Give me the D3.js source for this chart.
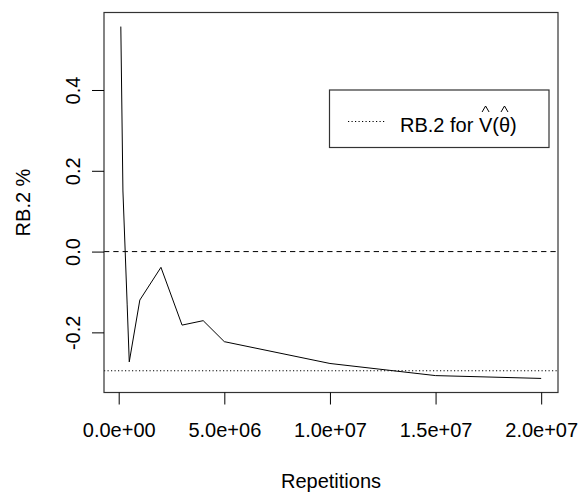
<!DOCTYPE html>
<html>
  <head>
    <script src="https://d3js.org/d3.v7.min.js"></script>
    <style>
      body { margin: 0; background: #fff; }
      text { font-family: "Liberation Sans", Arial, sans-serif; fill: #000; white-space: pre; }
    </style>
  </head>
  <body>
    <svg id="rbvis" width="579" height="493"></svg>

  <script>
  // Data
  var reps = [1e5, 2e5, 4e5, 5e5, 1e6, 2e6, 3e6, 4e6, 5e6, 1e7, 1.5e7, 2e7];
  var rb2 = [0.557, 0.15, -0.13, -0.273, -0.12, -0.039, -0.182, -0.171, -0.223, -0.277, -0.307, -0.314];
  var rbTarget = -0.295;   // dotted reference line
  var xTicks = [0, 5e6, 1e7, 1.5e7, 2e7];
  var xTickLabels = ["0.0e+00", "5.0e+06", "1.0e+07", "1.5e+07", "2.0e+07"];
  var yTicks = [-0.2, 0, 0.2, 0.4];
  var yTickLabels = ["-0.2", "0.0", "0.2", "0.4"];

  var svg = d3.select("#rbvis");
  var fontSize = 20;

  // plot region, R style: data range padded by 4% each side
  var box = {left: 104, right: 558, top: 12.5, bottom: 392.5};
  function pad(ext) {
    var d = (ext[1] - ext[0]) * 0.04;
    return [ext[0] - d, ext[1] + d];
  }
  var x = d3.scaleLinear().domain(pad(d3.extent(reps))).range([box.left, box.right]);
  var y = d3.scaleLinear().domain(pad(d3.extent(rb2))).range([box.bottom, box.top]);

  var pts = reps.map(function(r, i) { return [r, rb2[i]]; });

  // main line
  svg.append("path")
    .datum(pts)
    .attr("fill", "none")
    .attr("stroke", "#000")
    .attr("stroke-width", 1)
    .attr("d", d3.line().x(function(d) { return x(d[0]); }).y(function(d) { return y(d[1]); }));

  // zero line (dashed) and target (dotted)
  svg.append("line")
    .attr("x1", box.left).attr("x2", box.right)
    .attr("y1", y(0)).attr("y2", y(0))
    .attr("stroke", "#000").attr("stroke-dasharray", "5.3,4");
  svg.append("line")
    .attr("x1", box.left).attr("x2", box.right)
    .attr("y1", y(rbTarget)).attr("y2", y(rbTarget))
    .attr("stroke", "#000").attr("stroke-dasharray", "1.2,2.3");

  // box
  svg.append("rect")
    .attr("x", box.left).attr("y", box.top)
    .attr("width", box.right - box.left).attr("height", box.bottom - box.top)
    .attr("fill", "none").attr("stroke", "#333").attr("stroke-width", 1.2);

  // x axis
  var xAxis = svg.append("g")
    .attr("transform", "translate(0," + box.bottom + ")")
    .call(d3.axisBottom(x).tickValues(xTicks)
      .tickFormat(function(d, i) { return xTickLabels[i]; })
      .tickSize(12).tickPadding(18));
  xAxis.select(".domain").remove();
  xAxis.selectAll("line").attr("stroke", "#000");
  xAxis.selectAll("text").attr("font-size", fontSize).attr("font-family", null);

  // y axis (labels rotated, like R las=0)
  var yAxis = svg.append("g")
    .attr("transform", "translate(" + box.left + ",0)")
    .call(d3.axisLeft(y).tickValues(yTicks)
      .tickFormat(function(d, i) { return yTickLabels[i]; })
      .tickSize(12));
  yAxis.select(".domain").remove();
  yAxis.selectAll("line").attr("stroke", "#000");
  yAxis.selectAll("text")
    .attr("font-size", fontSize).attr("font-family", null)
    .attr("x", null).attr("dy", null)
    .attr("text-anchor", "middle")
    .attr("transform", "translate(-24,0) rotate(-90)");

  // axis titles
  svg.append("text")
    .attr("x", (box.left + box.right) / 2).attr("y", 488)
    .attr("text-anchor", "middle").attr("font-size", fontSize)
    .text("Repetitions");
  svg.append("text")
    .attr("transform", "translate(30," + (box.top + box.bottom) / 2 + ") rotate(-90)")
    .attr("text-anchor", "middle").attr("font-size", fontSize)
    .text("RB.2 %");

  // legend
  var leg = svg.append("g");
  leg.append("rect")
    .attr("x", 329.5).attr("y", 90).attr("width", 219.5).attr("height", 57.5)
    .attr("fill", "#fff").attr("stroke", "#333").attr("stroke-width", 1.2);
  leg.append("line")
    .attr("x1", 348).attr("x2", 385).attr("y1", 121.5).attr("y2", 121.5)
    .attr("stroke", "#000").attr("stroke-dasharray", "1.2,2.3");

  // "RB.2 for V^(theta^)" built piece by piece so hats can sit on top
  var parts = ["RB.2 for", " ", "V", "(", "\u03B8", ")"];
  var hatted = [false, false, true, false, true, false];
  var cx = 400, base = 132;
  parts.forEach(function(p, i) {
    var t = leg.append("text")
      .attr("x", cx).attr("y", base)
      .attr("font-size", fontSize)
      .text(p);
    var w = p === " " ? fontSize * 0.278 : t.node().getComputedTextLength();
    if (hatted[i]) {
      var mid = cx + w / 2;
      leg.append("path")
        .attr("d", "M" + (mid - 3.5) + "," + (base - 20) + "L" + mid + "," + (base - 26) + "L" + (mid + 3.5) + "," + (base - 20))
        .attr("fill", "none").attr("stroke", "#000").attr("stroke-width", 1);
    }
    cx += w;
  });
  </script>
  </body>
</html>
